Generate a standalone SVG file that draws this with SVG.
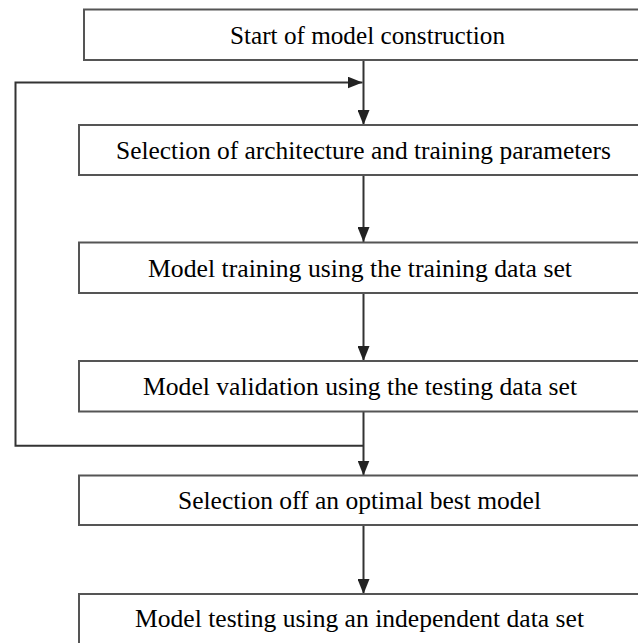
<svg xmlns="http://www.w3.org/2000/svg" width="638" height="643" viewBox="0 0 638 643">
<defs>
<style>
.box{fill:#fff;stroke:#555;stroke-width:2}
.lbl{font-family:"Liberation Serif","Times New Roman",serif;font-size:26px;fill:#000;text-anchor:middle}
.ln{fill:none;stroke:#333;stroke-width:2}
</style>
<marker id="ah" markerWidth="16" markerHeight="12" refX="15" refY="6" orient="auto" markerUnits="userSpaceOnUse">
<path d="M0,0 L15,6 L0,12 Z" fill="#222"/>
</marker>
</defs>
<rect width="638" height="643" fill="#fff"/>
<g id="connectors">
<line class="ln" x1="363.5" y1="60" x2="363.5" y2="125" marker-end="url(#ah)"/>
<polyline class="ln" points="363.5,445.7 15.5,445.7 15.5,82.5 362.5,82.5" marker-end="url(#ah)"/>
<line class="ln" x1="363.5" y1="175" x2="363.5" y2="242" marker-end="url(#ah)"/>
<line class="ln" x1="363.5" y1="293" x2="363.5" y2="361" marker-end="url(#ah)"/>
<line class="ln" x1="363.5" y1="411.5" x2="363.5" y2="475.5" marker-end="url(#ah)"/>
<line class="ln" x1="363.5" y1="525" x2="363.5" y2="594" marker-end="url(#ah)"/>
</g>
<g id="n1"><rect class="box" x="84" y="9.5" width="570" height="50.5"/><text class="lbl" x="367.5" y="44" textLength="275" lengthAdjust="spacingAndGlyphs">Start of model construction</text></g>
<g id="n2"><rect class="box" x="79" y="125" width="570" height="50"/><text class="lbl" x="363.5" y="159" textLength="495" lengthAdjust="spacingAndGlyphs">Selection of architecture and training parameters</text></g>
<g id="n3"><rect class="box" x="79" y="242.5" width="570" height="50.5"/><text class="lbl" x="360" y="277" textLength="424" lengthAdjust="spacingAndGlyphs">Model training using the training data set</text></g>
<g id="n4"><rect class="box" x="79" y="361" width="570" height="50.5"/><text class="lbl" x="360" y="395" textLength="434" lengthAdjust="spacingAndGlyphs">Model validation using the testing data set</text></g>
<g id="n5"><rect class="box" x="79" y="475.5" width="570" height="49.5"/><text class="lbl" x="359.5" y="509" textLength="363" lengthAdjust="spacingAndGlyphs">Selection off an optimal best model</text></g>
<g id="n6"><rect class="box" x="79" y="594" width="570" height="60"/><text class="lbl" x="359.5" y="627" textLength="449" lengthAdjust="spacingAndGlyphs">Model testing using an independent data set</text></g>
</svg>
